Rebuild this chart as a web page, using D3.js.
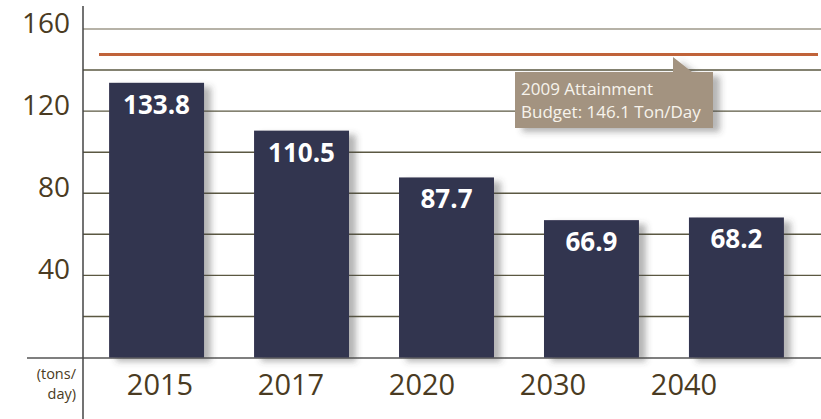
<!DOCTYPE html>
<html>
<head>
<meta charset="utf-8">
<script src="https://cdn.jsdelivr.net/npm/d3@7"></script>
<style>
  body { margin: 0; background: #fff; }
  text { font-family: "Open Sans", "Noto Sans", sans-serif; }
</style>
</head>
<body>
<div id="chart"></div>
<script>
const width = 821;
const height = 419;

// data
const years = ["2015", "2017", "2020", "2030", "2040"];
const tons = [133.8, 110.5, 87.7, 66.9, 68.2];
const gridValues = [20, 40, 60, 80, 100, 120, 140, 160];
const tickLabels = [40, 80, 120, 160];
const budget = 146.1;
const calloutLines = ["2009 Attainment", "Budget: 146.1 Ton/Day"];
const unitLines = ["(tons/", "day)"];

const axisX = 83;

const svg = d3.select("#chart")
  .append("svg")
  .attr("width", width)
  .attr("height", height);

const defs = svg.append("defs");
const shadow = defs.append("filter")
  .attr("id", "shadow")
  .attr("x", "-20%").attr("y", "-20%")
  .attr("width", "150%").attr("height", "150%");
shadow.append("feDropShadow")
  .attr("dx", 7).attr("dy", 4)
  .attr("stdDeviation", 3)
  .attr("flood-color", "#444")
  .attr("flood-opacity", 0.4);

const x = d3.scaleBand()
  .domain(years)
  .range([axisX, 810])
  .paddingInner(0.345)
  .paddingOuter(0.18);

// the year labels drift left of the bar centres in the original
const xLabel = d3.scalePoint()
  .domain(years)
  .range([160, 684]);

const y = d3.scaleLinear()
  .domain([0, 160])
  .range([357.5, 29]);

// gridlines
svg.append("g")
  .selectAll("line")
  .data(gridValues)
  .enter()
  .append("line")
  .attr("x1", axisX)
  .attr("x2", width)
  .attr("y1", d => y(d))
  .attr("y2", d => y(d))
  .attr("stroke", d => d === 160 ? "#9e998a" : "#5b5842")
  .attr("stroke-width", 1.4);

// baseline
svg.append("line")
  .attr("x1", 27)
  .attr("x2", width)
  .attr("y1", y(0) + 0.5)
  .attr("y2", y(0) + 0.5)
  .attr("stroke", "#555")
  .attr("stroke-width", 1.5);

// vertical axis
svg.append("line")
  .attr("x1", axisX)
  .attr("x2", axisX)
  .attr("y1", 6)
  .attr("y2", height)
  .attr("stroke", "#444")
  .attr("stroke-width", 1.5);

// y tick labels
svg.append("g")
  .selectAll("text")
  .data(tickLabels)
  .enter()
  .append("text")
  .attr("x", 70)
  .attr("y", d => y(d) + 4)
  .attr("text-anchor", "end")
  .attr("font-size", 28)
  .attr("fill", "#4a3b22")
  .text(d => d);

// unit label
svg.append("g")
  .selectAll("text")
  .data(unitLines)
  .enter()
  .append("text")
  .attr("x", 76)
  .attr("y", (d, i) => 379 + i * 20)
  .attr("text-anchor", "end")
  .attr("font-size", 14.5)
  .attr("fill", "#4a3b22")
  .text(d => d);

// budget line
svg.append("line")
  .attr("x1", 99)
  .attr("x2", 818)
  .attr("y1", y(budget) - 3)
  .attr("y2", y(budget) - 3)
  .attr("stroke", "#c0633a")
  .attr("stroke-width", 3);

// bars
svg.append("g")
  .selectAll("rect")
  .data(tons)
  .enter()
  .append("rect")
  .attr("x", (d, i) => x(years[i]))
  .attr("y", d => y(d))
  .attr("width", x.bandwidth())
  .attr("height", d => y(0) - y(d))
  .attr("fill", "#33344f")
  .attr("filter", "url(#shadow)");

// bar value labels
svg.append("g")
  .selectAll("text")
  .data(tons)
  .enter()
  .append("text")
  .attr("x", (d, i) => x(years[i]) + x.bandwidth() / 2)
  .attr("y", d => y(d) + 31)
  .attr("text-anchor", "middle")
  .attr("font-size", 26)
  .attr("font-weight", "bold")
  .attr("fill", "#fff")
  .text(d => d.toFixed(1));

// year labels
svg.append("g")
  .selectAll("text")
  .data(years)
  .enter()
  .append("text")
  .attr("x", d => xLabel(d))
  .attr("y", 395)
  .attr("text-anchor", "middle")
  .attr("font-size", 29)
  .attr("fill", "#4a3b22")
  .text(d => d);

// callout
const callout = svg.append("g").attr("filter", "url(#shadow)");
callout.append("path")
  .attr("d", "M515,72 L673,72 L673,57 L692,72 L713,72 L713,128 L515,128 Z")
  .attr("fill", "#a39380");

svg.append("g")
  .selectAll("text")
  .data(calloutLines)
  .enter()
  .append("text")
  .attr("x", 521)
  .attr("y", (d, i) => 95 + i * 23)
  .attr("font-size", 17)
  .attr("fill", "#f7f3ec")
  .text(d => d);
</script>
</body>
</html>
